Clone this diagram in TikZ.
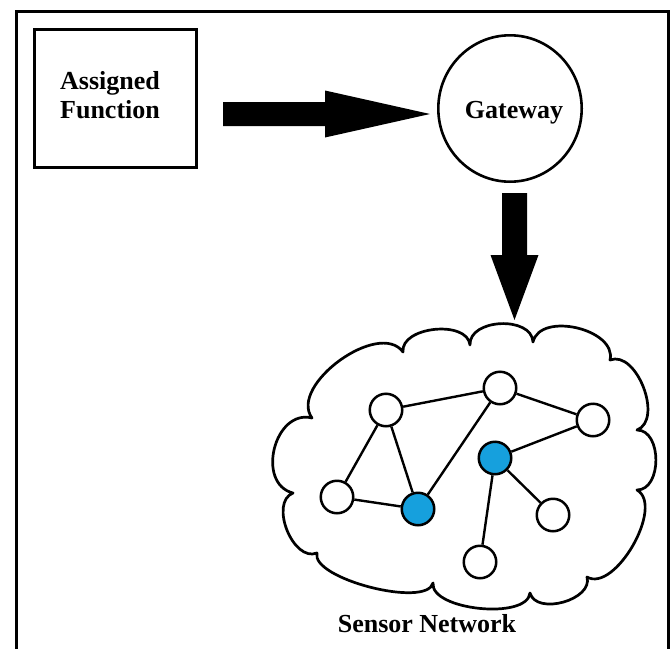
\documentclass[tikz,border=0pt]{standalone}
\usepackage{fontspec}
\setmainfont{Liberation Serif}
\usetikzlibrary{calc,shapes.geometric}
\definecolor{sblue}{RGB}{22,160,221}
\tikzset{
 frame/.style={line width=3.3pt},
 fnbox/.style={draw, line width=3.3pt, rectangle, minimum width=161.7pt, minimum height=137.7pt, inner sep=0pt},
 gwcirc/.style={draw, ellipse, line width=2.6pt, minimum width=143.4pt, minimum height=146.4pt, inner sep=0pt},
 lbl/.style={font=\fontsize{26}{29}\selectfont\bfseries, align=center, inner sep=0pt},
 snode/.style={circle, draw, line width=2.5pt, minimum size=32.5pt, inner sep=0pt, fill=white},
 bnode/.style={snode, fill=sblue},
 link/.style={line width=2.4pt},
 cloudline/.style={line width=2.7pt, line join=round},
}
\begin{document}
\begin{tikzpicture}[x=1pt,y=-1pt]
\clip (0,0) rectangle (672,648);
\fill[white] (0,0) rectangle (672,648);
% frame (bottom edge lies outside the picture)
\draw[frame] (16.5,11.4) rectangle (668.5,700);

% assigned function box
\node[fnbox] (af) at (115.5,98.5) {};
\node[lbl] (aft) at (110,95) {Assigned\\Function};

% gateway
\node[gwcirc] (gw) at (510,108.5) {};
\node[lbl, anchor=base] (gwt) at (514,118) {Gateway};

% horizontal fat arrow
\coordinate (ha) at (223,114);
\coordinate (hb) at (430,114);
\fill ($(ha)+(0,-12)$) -- ($(hb)+(-105,-12)$) -- ($(hb)+(-105,-23.5)$) -- (hb)
  -- ($(hb)+(-105,23.5)$) -- ($(hb)+(-105,12)$) -- ($(ha)+(0,12)$) -- cycle;

% vertical fat arrow
\coordinate (va) at (514.5,193);
\coordinate (vb) at (514.5,320);
\fill ($(va)+(-12.5,0)$) -- ($(vb)+(-12.5,-65)$) -- ($(vb)+(-24,-65)$) -- (vb)
  -- ($(vb)+(24,-65)$) -- ($(vb)+(12.5,-65)$) -- ($(va)+(12.5,0)$) -- cycle;

% cloud
\coordinate (q1) at (293,493);
\coordinate (q2) at (312,418);
\coordinate (q3) at (403,352);
\coordinate (q4) at (470,345);
\coordinate (q5) at (533,342);
\coordinate (q6) at (610,360);
\coordinate (q7) at (637,430);
\coordinate (q8) at (637,490);
\coordinate (q9) at (587,577);
\coordinate (q10) at (530,593);
\coordinate (q11) at (433,583);
\coordinate (q12) at (317,553);
\draw[cloudline]
 (q1) .. controls ($(q1)!0.50!90:(q2)$) and ($(q2)!0.50!-90:(q1)$) .. (q2)
      .. controls ($(q2)!0.36!90:(q3)$) and ($(q3)!0.36!-90:(q2)$) .. (q3)
      .. controls ($(q3)!0.38!90:(q4)$) and ($(q4)!0.38!-90:(q3)$) .. (q4)
      .. controls ($(q4)!0.42!90:(q5)$) and ($(q5)!0.42!-90:(q4)$) .. (q5)
      .. controls ($(q5)!0.40!90:(q6)$) and ($(q6)!0.40!-90:(q5)$) .. (q6)
      .. controls ($(q6)!0.38!90:(q7)$) and ($(q7)!0.38!-90:(q6)$) .. (q7)
      .. controls ($(q7)!0.42!90:(q8)$) and ($(q8)!0.42!-90:(q7)$) .. (q8)
      .. controls ($(q8)!0.32!90:(q9)$) and ($(q9)!0.32!-90:(q8)$) .. (q9)
      .. controls ($(q9)!0.40!90:(q10)$) and ($(q10)!0.40!-90:(q9)$) .. (q10)
      .. controls ($(q10)!0.28!90:(q11)$) and ($(q11)!0.28!-90:(q10)$) .. (q11)
      .. controls ($(q11)!0.22!90:(q12)$) and ($(q12)!0.22!-90:(q11)$) .. (q12)
      .. controls ($(q12)!0.40!90:(q1)$) and ($(q1)!0.40!-90:(q12)$) .. (q1) -- cycle;

% sensor nodes
\node[snode] (n1) at (386,410) {};
\node[snode] (n2) at (500,388) {};
\node[snode] (n3) at (593,420) {};
\node[bnode] (n4) at (495,458) {};
\node[snode] (n5) at (337,497) {};
\node[bnode] (n6) at (418,509) {};
\node[snode] (n7) at (553,515) {};
\node[snode] (n8) at (480,562) {};
\draw[link] (n1) -- (n2);
\draw[link] (n1) -- (n5);
\draw[link] (n1) -- (n6);
\draw[link] (n5) -- (n6);
\draw[link] (n6) -- (n2);
\draw[link] (n2) -- (n3);
\draw[link] (n3) -- (n4);
\draw[link] (n4) -- (n7);
\draw[link] (n4) -- (n8);

\node[lbl, anchor=base] (snt) at (427,632) {Sensor Network};
\end{tikzpicture}
\end{document}
